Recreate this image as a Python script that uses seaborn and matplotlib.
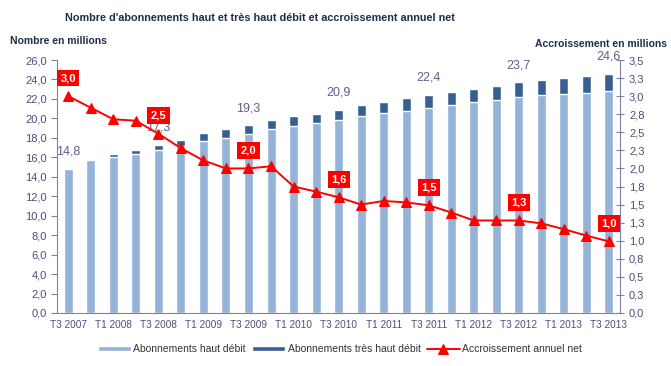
import matplotlib
matplotlib.use("Agg")
import matplotlib.pyplot as plt
import numpy as np
import pandas as pd
import seaborn as sns

# Quarters T3 2007 .. T3 2013
quarters = [
    "T3 2007", "T4 2007", "T1 2008", "T2 2008", "T3 2008", "T4 2008",
    "T1 2009", "T2 2009", "T3 2009", "T4 2009", "T1 2010", "T2 2010",
    "T3 2010", "T4 2010", "T1 2011", "T2 2011", "T3 2011", "T4 2011",
    "T1 2012", "T2 2012", "T3 2012", "T4 2012", "T1 2013", "T2 2013",
    "T3 2013",
]
# total subscriptions (millions)
total_subs = [
    14.8, 15.7, 16.3, 16.8, 17.3, 17.8, 18.5, 18.9, 19.3, 19.8,
    20.2, 20.5, 20.9, 21.4, 21.7, 22.1, 22.4, 22.7, 23.0, 23.3,
    23.7, 23.9, 24.2, 24.4, 24.6,
]
# haut debit part (millions)
hd_subs = [
    14.75, 15.7, 16.0, 16.3, 16.7, 17.2, 17.7, 18.0, 18.4, 18.9,
    19.2, 19.5, 19.8, 20.2, 20.6, 20.8, 21.1, 21.4, 21.7, 21.9,
    22.2, 22.4, 22.5, 22.6, 22.8,
]
# net annual growth (millions)
growth = [
    3.0, 2.84, 2.68, 2.66, 2.48, 2.28, 2.11, 2.0, 2.0, 2.03,
    1.75, 1.68, 1.6, 1.5, 1.55, 1.53, 1.49, 1.39, 1.28, 1.28,
    1.28, 1.24, 1.16, 1.07, 0.99,
]
labelled_idx = [0, 4, 8, 12, 16, 20, 24]
right_ticks = [0, 0.25, 0.5, 0.75, 1.0, 1.25, 1.5, 1.75, 2.0, 2.25, 2.5, 2.75, 3.0, 3.25, 3.5]
right_tick_labels = ["0,0", "0,3", "0,5", "0,8", "1,0", "1,3", "1,5", "1,8",
                     "2,0", "2,3", "2,5", "2,8", "3,0", "3,3", "3,5"]

LIGHT = "#95B3D7"
DARK = "#376092"
AXIS_COL = "#8080A8"
TICK_COL = "#4D4D7A"
VAL_COL = "#5E5E8E"
TITLE_COL = "#1F2E4D"

df = pd.DataFrame({"quarter": quarters, "total": total_subs, "hd": hd_subs, "growth": growth})

sns.set_style("white")
plt.rcParams["font.family"] = ["Liberation Sans", "DejaVu Sans"]

fig = plt.figure(figsize=(6.71, 3.66), dpi=100)
ax = fig.add_axes([57 / 671, 1 - 313 / 366, (620 - 57) / 671, (313 - 60) / 366])

sns.barplot(data=df, x="quarter", y="total", color=DARK, width=0.4, saturation=1, ax=ax,
            label="Abonnements très haut débit")
sns.barplot(data=df, x="quarter", y="hd", color=LIGHT, width=0.4, saturation=1, ax=ax,
            label="Abonnements haut débit")
h1, l1 = ax.get_legend_handles_labels()
if ax.get_legend():
    ax.get_legend().remove()

ax.set_ylim(0, 26)
ax.set_xlim(-0.48, 24.49)
ax.set_yticks(np.arange(0, 27, 2))
ax.set_yticklabels([f"{v:.1f}".replace(".", ",") for v in np.arange(0, 27, 2)])
ax.set_xticks(range(0, 25, 2))
ax.set_xticklabels([quarters[i] for i in range(0, 25, 2)])
ax.set_xticks(np.arange(-0.5, 24.6, 2), minor=True)
ax.tick_params(axis="x", which="major", length=0, pad=5, labelsize=7.2, labelcolor=TICK_COL)
ax.tick_params(axis="x", which="minor", length=4, color=AXIS_COL, direction="out")
ax.tick_params(axis="y", length=4, color=AXIS_COL, direction="out", labelsize=8, labelcolor=TICK_COL, left=True)
ax.set_xlabel("")
ax.set_ylabel("")
for side in ["top", "right"]:
    ax.spines[side].set_visible(False)
for side in ["left", "bottom"]:
    ax.spines[side].set_color(AXIS_COL)

for i in labelled_idx:
    ax.annotate(f"{total_subs[i]:.1f}".replace(".", ","), (i, total_subs[i]),
                xytext=(0, 8), textcoords="offset points", ha="center", va="bottom",
                color=VAL_COL, fontsize=9, zorder=1)

ax2 = ax.twinx()
sns.lineplot(x=np.arange(len(growth)), y=growth, color="#FF0000", marker="^", markersize=7,
             markeredgecolor="#FF0000", linewidth=1.4, ax=ax2, label="Accroissement annuel net")
h2, l2 = ax2.get_legend_handles_labels()
if ax2.get_legend():
    ax2.get_legend().remove()
ax2.set_ylim(0, 3.5)
ax2.set_yticks(right_ticks)
ax2.set_yticklabels(right_tick_labels)
ax2.tick_params(axis="y", length=6, color=AXIS_COL, direction="inout", labelsize=8,
                labelcolor=TICK_COL, right=True)
for side in ["top", "left", "bottom"]:
    ax2.spines[side].set_visible(False)
ax2.spines["right"].set_color(AXIS_COL)

for i in labelled_idx:
    ax2.annotate(f"{growth[i]:.1f}".replace(".", ","), (i, growth[i]),
                 xytext=(0, 13), textcoords="offset points", ha="center", va="center",
                 color="white", fontsize=8, fontweight="bold",
                 bbox=dict(boxstyle="square,pad=0.3", facecolor="#FF0000", edgecolor="none"))

# legend order: haut debit, tres haut debit, accroissement
handles = [h1[1], h1[0], h2[0]]
labels = [l1[1], l1[0], l2[0]]
fig.legend(handles, labels, loc="center", bbox_to_anchor=(340 / 671, 1 - 349 / 366), ncol=3,
           frameon=False, fontsize=7.5, handlelength=3.2, handleheight=0.35, handletextpad=0.2,
           columnspacing=0.6, labelcolor="#333333")

fig.text(260 / 671, 1 - 18 / 366, "Nombre d'abonnements haut et très haut débit et accroissement annuel net",
         ha="center", va="center", fontsize=7.8, fontweight="bold", color=TITLE_COL)
fig.text(10 / 671, 1 - 41 / 366, "Nombre en millions", ha="left", va="center",
         fontsize=7.5, fontweight="bold", color=TITLE_COL)
fig.text(667 / 671, 1 - 44 / 366, "Accroissement en millions", ha="right", va="center",
         fontsize=7.5, fontweight="bold", color=TITLE_COL)

fig.savefig("out.png", dpi=100)
